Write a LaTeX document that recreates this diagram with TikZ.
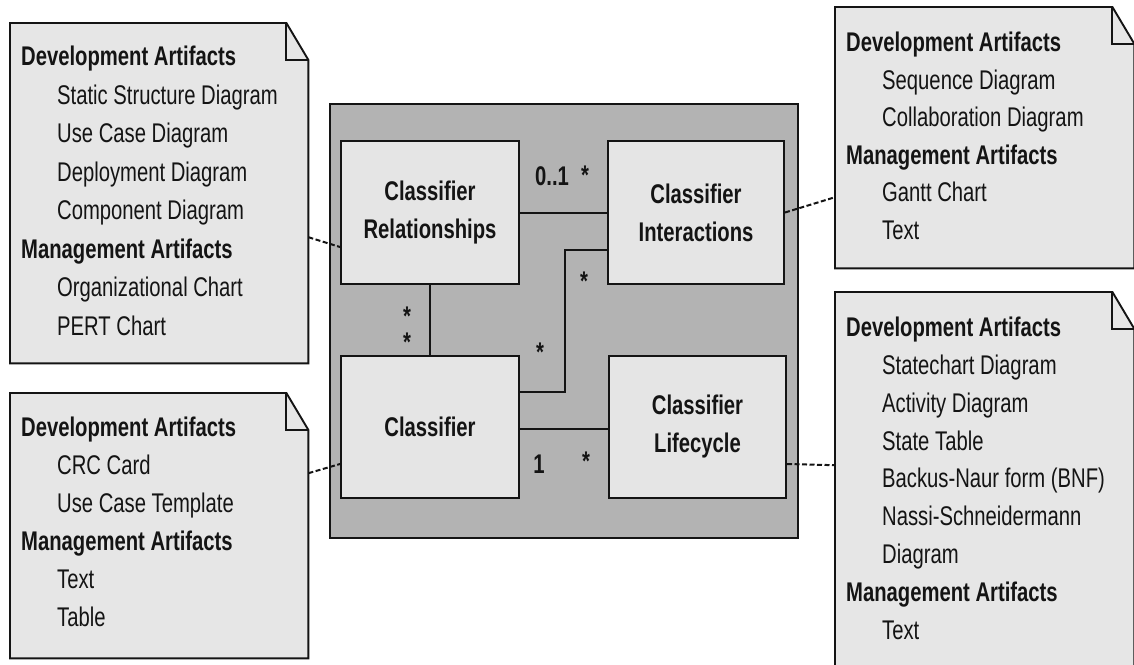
\documentclass[tikz,border=0pt]{standalone}
\usepackage{fontspec}
\setmainfont{Liberation Sans}[FakeStretch=0.75]
\definecolor{notefill}{HTML}{E6E6E6}
\definecolor{boxfill}{HTML}{E5E5E5}
\definecolor{panelfill}{HTML}{B3B3B3}
\definecolor{ink}{HTML}{141414}
\newcommand{\artindent}{\hspace*{36pt}}
% outline of a UML note with a folded top-right corner
\newcommand{\notefold}[1]{%
  \draw[noteline, fill=notefill] (#1.north west) -- ([xshift=-22pt]#1.north east)
    -- ([yshift=-37pt]#1.north east) -- (#1.south east) -- (#1.south west) -- cycle;
  \draw[noteline] ([xshift=-22pt]#1.north east) |- ([yshift=-37pt]#1.north east);}
\tikzset{
  notebody/.style={minimum width=298pt, inner sep=0pt, anchor=north west},
  noteline/.style={draw=ink, line width=1.9pt, line join=miter},
  notetext/.style={font=\fontsize{27}{38}\selectfont, text=ink, align=left, anchor=north west, inner sep=0pt},
  classbox/.style={draw=ink, fill=boxfill, line width=2pt, minimum height=143pt,
    anchor=north west, inner sep=0pt, align=center, text=ink,
    font=\fontsize{27}{38}\selectfont\bfseries},
  link/.style={draw=ink, line width=2pt},
  dep/.style={draw=ink, line width=2pt, dash pattern=on 5pt off 2.5pt},
  mult/.style={font=\fontsize{27}{38}\selectfont\bfseries, text=ink, anchor=base, inner sep=0pt},
}
\begin{document}
\begin{tikzpicture}[x=1pt,y=-1pt]
\useasboundingbox (0,0) rectangle (1134,664);
\clip (0,0) rectangle (1134,664);

% central panel
\node[draw=ink, fill=panelfill, line width=2pt, minimum width=468pt, minimum height=434pt,
      anchor=north west, inner sep=0pt] (panel) at (329,103) {};

% classes
\node[classbox, minimum width=178pt] (rel) at (340,140) {Classifier\\Relationships};
\node[classbox, minimum width=176pt] (int) at (607,140) {Classifier\\Interactions};
\node[classbox, minimum width=178pt, minimum height=142pt] (cls) at (340,355) {Classifier};
\node[classbox, minimum width=177pt, minimum height=142pt] (lif) at (608,355) {Classifier\\Lifecycle};

% associations
\draw[link] (rel.east) -- (int.west);
\draw[link] (rel.south) -- (cls.north);
\draw[link] ([yshift=35pt]cls.east) -- ++(45,0) |- ([yshift=-37.5pt]int.west);
\draw[link] ([yshift=-2pt]cls.east) -- ([yshift=-2pt]lif.west);

% multiplicities
\node[mult] (m1) at (552,185) {0..1};
\node[mult] (m2) at (585,184) {*};
\node[mult] (m3) at (584,290) {*};
\node[mult] (m4) at (540,361) {*};
\node[mult] (m5) at (407,325) {*};
\node[mult] (m6) at (407,351) {*};
\node[mult] (m7) at (539,473) {1};
\node[mult] (m8) at (586,470) {*};

% notes
\node[notebody, minimum height=340pt] (n1) at (10,23) {};
\node[notebody, minimum height=265pt] (n2) at (10,393) {};
\node[notebody, minimum width=299pt, minimum height=261pt] (n3) at (835,7) {};
\node[notebody, minimum width=299pt, minimum height=420pt] (n4) at (835,292) {};
\notefold{n1}
\notefold{n2}
\notefold{n3}
\notefold{n4}

\node[notetext, font=\fontsize{27}{38.5}\selectfont] (t1) at ([xshift=11pt,yshift=-23pt]n1.north west)
  {\textbf{Development Artifacts}\\
   \artindent Static Structure Diagram\\
   \artindent Use Case Diagram\\
   \artindent Deployment Diagram\\
   \artindent Component Diagram\\
   \textbf{Management Artifacts}\\
   \artindent Organizational Chart\\
   \artindent PERT Chart};
\node[notetext] (t2) at ([xshift=11pt,yshift=-24pt]n2.north west)
  {\textbf{Development Artifacts}\\
   \artindent CRC Card\\
   \artindent Use Case Template\\
   \textbf{Management Artifacts}\\
   \artindent Text\\
   \artindent Table};
\node[notetext, font=\fontsize{27}{37.5}\selectfont] (t3) at ([xshift=11pt,yshift=-25pt]n3.north west)
  {\textbf{Development Artifacts}\\
   \artindent Sequence Diagram\\
   \artindent Collaboration Diagram\\
   \textbf{Management Artifacts}\\
   \artindent Gantt Chart\\
   \artindent Text};
\node[notetext, font=\fontsize{27}{37.8}\selectfont] (t4) at ([xshift=11pt,yshift=-25pt]n4.north west)
  {\textbf{Development Artifacts}\\
   \artindent Statechart Diagram\\
   \artindent Activity Diagram\\
   \artindent State Table\\
   \artindent Backus-Naur form (BNF)\\
   \artindent Nassi-Schneidermann\\
   \artindent Diagram\\
   \textbf{Management Artifacts}\\
   \artindent Text};

% note attachments
\draw[dep] ([yshift=-44pt]n1.east) -- ([yshift=-34.5pt]rel.west);
\draw[dep] ([yshift=52.5pt]n2.east) -- ([yshift=-37pt]cls.west);
\draw[dep] (int.east) -- ([yshift=-59.5pt]n3.west);
\draw[dep] ([yshift=-37pt]lif.east) -- ([yshift=37pt]n4.west);
\end{tikzpicture}
\end{document}
